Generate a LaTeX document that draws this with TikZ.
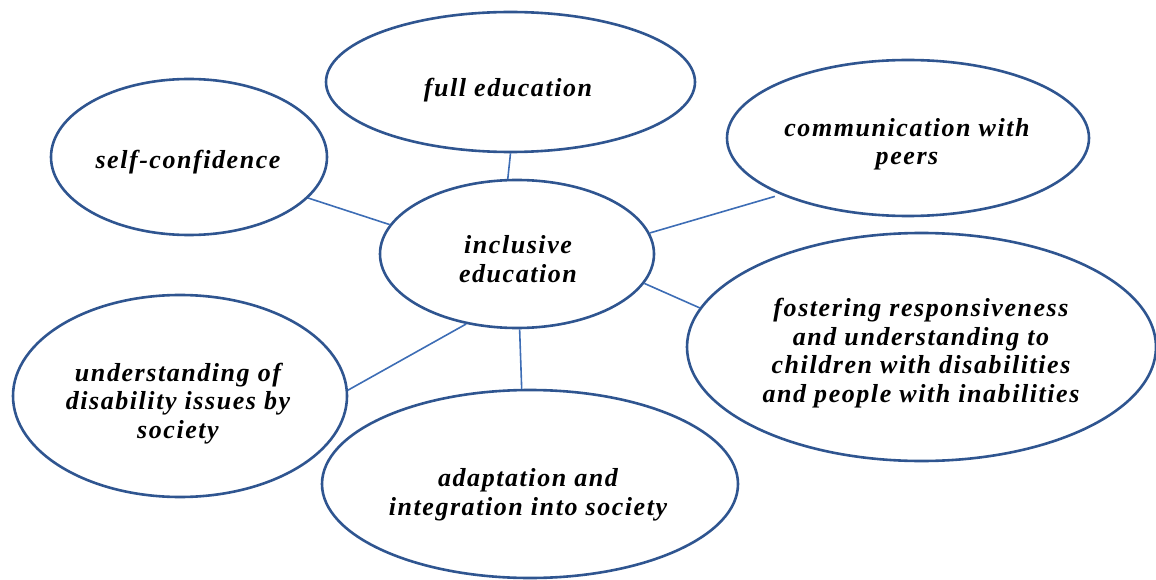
\documentclass[tikz,border=0pt]{standalone}
\usepackage{fontspec}
\setmainfont{Liberation Serif}
\newfontfamily\lblfont[LetterSpace=6]{Liberation Serif}
\usetikzlibrary{shapes.geometric}
\definecolor{ellc}{HTML}{2F5590}
\definecolor{linc}{HTML}{3D6DB5}
\tikzset{
  bubble/.style={ellipse, draw=ellc, line width=2.6pt, inner sep=0pt, fill=white},
  lbl/.style={font=\lblfont\bfseries\itshape\fontsize{26pt}{28.5pt}\selectfont, align=center, inner sep=0pt, anchor=base},
  conn/.style={draw=linc, line width=1.6pt}
}
\begin{document}
\begin{tikzpicture}[x=1pt,y=-1pt]
\useasboundingbox (0,0) rectangle (1156,580);
% ellipses
\node[bubble, minimum width=369pt, minimum height=140pt] (fe) at (510.5,82) {};
\node[bubble, minimum width=276pt, minimum height=156pt] (sc) at (189,157) {};
\node[bubble, minimum width=362pt, minimum height=156pt] (cw) at (908,138) {};
\node[bubble, minimum width=274pt, minimum height=148pt] (ie) at (517,254) {};
\node[bubble, minimum width=469pt, minimum height=228pt] (fr) at (921.5,347) {};
\node[bubble, minimum width=334pt, minimum height=202pt] (ud) at (180,396) {};
\node[bubble, minimum width=416pt, minimum height=188pt] (ad) at (530,484) {};
% connectors
\draw[conn] (fe.-90) -- (ie.97);
\draw[conn] (sc.-19.6) -- (ie.167.3);
\draw[conn, shorten <=6pt] (cw.204.8) -- (ie.9.8);
\draw[conn] (fr.170) -- (ie.-13.2);
\draw[conn] (ud.2.8) -- (ie.234.3);
\draw[conn] (ie.-88.5) -- (ad.95);
% labels (anchor=base is the baseline of the last line)
\node[lbl] (fe-t) at (508,97) {full education};
\node[lbl] (sc-t) at (188,169) {self-confidence};
\node[lbl] (cw-t) at (907,165) {communication with\\peers};
\node[lbl] (ie-t) at (518,282) {inclusive\\education};
\node[lbl] (fr-t) at (921,402) {fostering responsiveness\\and understanding to\\children with disabilities\\and people with inabilities};
\node[lbl] (ud-t) at (178,438) {understanding of\\disability issues by\\society};
\node[lbl] (ad-t) at (528,515) {adaptation and\\integration into society};
\end{tikzpicture}
\end{document}
